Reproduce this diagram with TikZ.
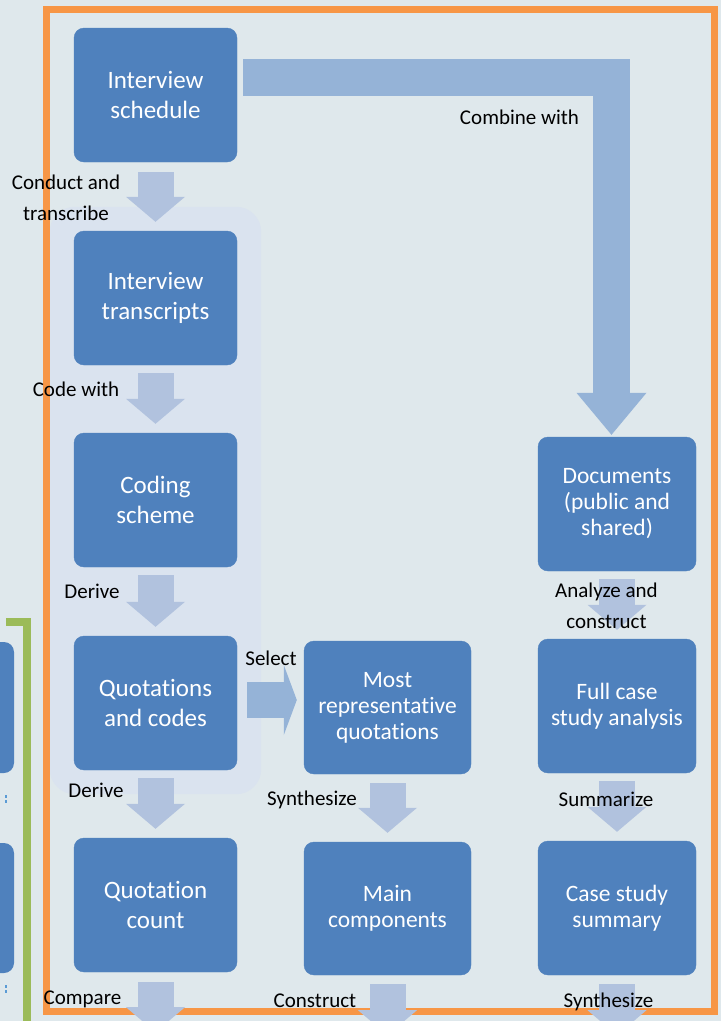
\documentclass[tikz,border=0pt]{standalone}
\usepackage{fontspec}
\setmainfont{Carlito}[Ligatures={NoCommon}]
\usetikzlibrary{arrows.meta,calc,fit,backgrounds}

\definecolor{bgcol}{HTML}{DFE8EC}
\definecolor{panelcol}{HTML}{DAE3EF}
\definecolor{boxblue}{HTML}{4F81BD}
\definecolor{arrlight}{HTML}{B1C2DE}
\definecolor{arrmid}{HTML}{95B3D7}
\definecolor{frameorange}{HTML}{F79646}
\definecolor{framegreen}{HTML}{9BBB59}
\definecolor{tickblue}{HTML}{5B9BD5}

\begin{document}
\begin{tikzpicture}[x=1pt,y=-1pt,
  box/.style={fill=boxblue, draw=boxblue, rounded corners=10pt,
    minimum width=163pt, minimum height=134pt, inner sep=0pt,
    text=white, align=center, font=\fontsize{25}{29.5}\selectfont},
  boxsm/.style={box, font=\fontsize{23.5}{26}\selectfont},
  lbl/.style={inner sep=0pt, text=black, align=center,
    font=\fontsize{21}{31}\selectfont},
  darrow/.style={draw=arrlight, line width=36pt,
    -{Triangle[length=25pt,width=59pt,line width=0pt]}},
  bigarrow/.style={draw=arrmid, line width=37pt, line join=miter,
    -{Triangle[length=42pt,width=70pt,line width=0pt]}},
  selarrow/.style={draw=arrmid, line width=36pt,
    -{Triangle[length=13pt,width=70pt,line width=0pt]}},
  panel/.style={fill=panelcol, rounded corners=25pt, inner sep=24pt}
]
\useasboundingbox (0,0) rectangle (721,1021);
\clip (0,0) rectangle (721,1021);

% neighbouring group on the left, mostly cut off
\fill[boxblue, rounded corners=10pt] (-40,642) rectangle (14,773);
\fill[boxblue, rounded corners=10pt] (-40,843) rectangle (14,973);
\fill[tickblue] (4.5,795) rectangle (6.5,798);
\fill[tickblue] (4.5,800) rectangle (6.5,803);
\fill[tickblue] (4.5,985) rectangle (6.5,988);
\fill[tickblue] (4.5,990) rectangle (6.5,993);
\draw[framegreen, line width=8pt, line join=miter] (6,622) -- (27,622) -- (27,1040);

% outer frame
\draw[frameorange, line width=7pt] (46.5,9.5) rectangle (714,1011);

% process steps
\node[box] (sched)  at (155.5,95)  {Interview\\schedule};
\node[box] (trans)  at (155.5,298) {Interview\\transcripts};
\node[box] (coding) at (155.5,500) {Coding\\scheme};
\node[box] (quot)   at (155.5,703) {Quotations\\and codes};
\node[box] (count)  at (155.5,905) {Quotation\\count};

\node[boxsm, minimum width=167pt, minimum height=133pt] (rep)  at (387.5,707.5) {Most\\representative\\quotations};
\node[boxsm, minimum width=167pt, minimum height=133pt] (comp) at (387.5,908.5) {Main\\components};

\node[boxsm, minimum width=158pt] (doc)  at (617,504) {Documents\\(public and\\shared)};
\node[boxsm, minimum width=158pt] (full) at (617,706) {Full case\\study analysis};
\node[boxsm, minimum width=158pt] (summ) at (617,908) {Case study\\summary};

% continuation points below the frame
\coordinate (countout) at ($(count.south)+(0,60)$);
\coordinate (compout)  at ($(comp.south)+(0,60)$);
\coordinate (summout)  at ($(summ.south)+(0,60)$);

% block arrows
\draw[darrow] ($(sched.south)+(0,10)$)  -- ($(trans.north)+(0,-9)$);
\draw[darrow] ($(trans.south)+(0,8)$)   -- ($(coding.north)+(0,-9)$);
\draw[darrow] ($(coding.south)+(0,8)$)  -- ($(quot.north)+(0,-9)$);
\draw[darrow] ($(quot.south)+(0,8)$)    -- ($(count.north)+(0,-9)$);
\draw[darrow] ($(count.south)+(0,10)$)  -- (countout);
\draw[darrow] ($(rep.south)+(0,9)$)     -- ($(comp.north)+(0,-9)$);
\draw[darrow] ($(comp.south)+(0,9)$)    -- (compout);
\draw[darrow] ($(doc.south)+(0,8)$)     -- ($(full.north)+(0,-9)$);
\draw[darrow] ($(full.south)+(0,8)$)    -- ($(summ.north)+(0,-9)$);
\draw[darrow] ($(summ.south)+(0,9)$)    -- (summout);

\draw[bigarrow] ($(sched.east |- 0,77.5)+(6,0)$) -| ($(doc.north)+(-5.5,-2)$);
\draw[selarrow] ($(quot.east)+(10,-3)$) -- ($(quot.east -| rep.west)+(-7,-3)$);

% arrow labels
\node[lbl] (l1)  at (66,198)    {Conduct and\\transcribe};
\node[lbl, anchor=base] (l2)  at (76,396)    {Code with};
\node[lbl, anchor=base] (l3)  at (92,598)    {Derive};
\node[lbl, anchor=base] (l4)  at (96,797)    {Derive};
\node[lbl, anchor=base] (l5)  at (82.5,1004) {Compare};
\node[lbl, anchor=base] (l6)  at (271,665)   {Select};
\node[lbl, anchor=base] (l7)  at (312,805)   {Synthesize};
\node[lbl, anchor=base] (l8)  at (315,1007)  {Construct};
\node[lbl, anchor=base] (l9)  at (519.5,124) {Combine with};
\node[lbl] (l10) at (606.5,606) {Analyze and\\construct};
\node[lbl, anchor=base] (l11) at (606,806)   {Summarize};
\node[lbl, anchor=base] (l12) at (608.5,1007) {Synthesize};

% background and grouping panel
\begin{scope}[on background layer]
  \fill[bgcol] (0,0) rectangle (721,1021);
  \node[panel, fit=(trans)(quot)] (grp) {};
\end{scope}
\end{tikzpicture}
\end{document}
